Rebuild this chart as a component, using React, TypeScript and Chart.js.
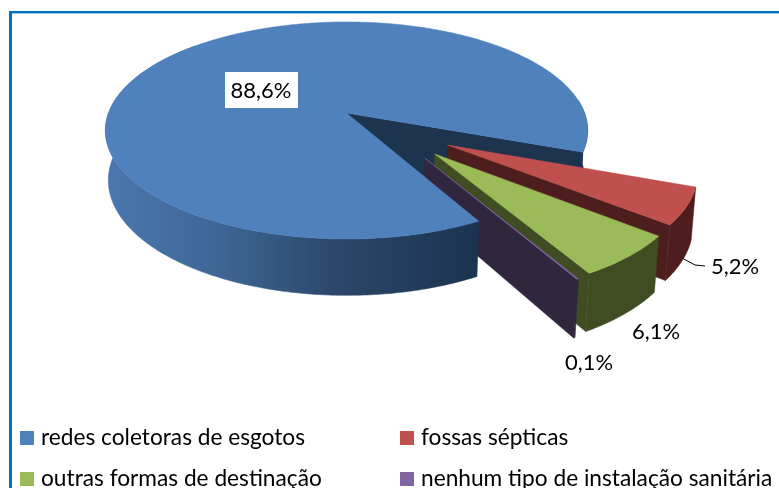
import React, { useEffect, useRef } from "react";
import { Chart, registerables } from "chart.js";

Chart.register(...registerables);

const categories = [
  "redes coletoras de esgotos",
  "fossas sépticas",
  "outras formas de destinação",
  "nenhum tipo de instalação sanitária",
];
const shares = [88.6, 5.2, 6.1, 0.1];
const topColors = ["#4F81BD", "#C0504D", "#9BBB59", "#8064A2"];
const wallColors = ["#1D344F", "#4D1E1D", "#404C22", "#30273F"];
const firstSliceAngle = 151.5;

// Camera model of the tilted disc
const CX = 346.5, CY = 113, SX = 238, SY = 105.7, DEPTH = 49.5, K = 0.161, M = 0.012;
const EXPLODE = [[0, 0], [0.405, 0.289], [0.349, 0.365], [0.3075, 0.399]];
const RADII = [1, 0.975, 0.975, 0.975];
const LABEL_POS = [[261, 91], [735, 267], [656, 332], [589, 363]];
const FAMILY = "Lato, Carlito, 'Open Sans', sans-serif";
const LABEL_FONT = `22px ${FAMILY}`;
const LEGEND_FONT = `22.7px ${FAMILY}`;

function project(x: number, y: number, z: number): [number, number] {
  const w = 1 - K * y + M * z;
  return [CX + (SX * x) / w, CY + (SY * y + DEPTH * z) / w];
}

function poly(ctx: CanvasRenderingContext2D, pts: [number, number][], fill: any) {
  ctx.beginPath();
  pts.forEach((p, i) => (i ? ctx.lineTo(p[0], p[1]) : ctx.moveTo(p[0], p[1])));
  ctx.closePath();
  ctx.fillStyle = fill;
  ctx.fill();
  ctx.strokeStyle = fill;
  ctx.lineWidth = 0.5;
  ctx.stroke();
}

function arcPts(a0: number, a1: number, ex: number[], r: number, z: number) {
  const n = Math.max(2, Math.ceil(Math.abs(a1 - a0) / 0.01));
  const out: [number, number][] = [];
  for (let i = 0; i <= n; i++) {
    const a = a0 + ((a1 - a0) * i) / n;
    out.push(project(ex[0] + r * Math.cos(a), ex[1] + r * Math.sin(a), z));
  }
  return out;
}

function top(ctx: CanvasRenderingContext2D, a0: number, a1: number, ex: number[], r: number, c: string) {
  poly(ctx, [project(ex[0], ex[1], 0), ...arcPts(a0, a1, ex, r, 0)], c);
}
function wall(ctx: CanvasRenderingContext2D, a: number, ex: number[], r: number, c: string) {
  const px = ex[0] + r * Math.cos(a);
  const py = ex[1] + r * Math.sin(a);
  poly(ctx, [project(ex[0], ex[1], 0), project(px, py, 0), project(px, py, 1), project(ex[0], ex[1], 1)], c);
}
function rim(ctx: CanvasRenderingContext2D, a0: number, a1: number, ex: number[], r: number, c: any) {
  poly(ctx, [...arcPts(a0, a1, ex, r, 0), ...arcPts(a1, a0, ex, r, 1)], c);
}

const pie3d = {
  id: "pie3d",
  beforeDatasetDraw(chart: any) {
    const ctx: CanvasRenderingContext2D = chart.ctx;
    const arcs = chart.getDatasetMeta(0).data;
    const ang = arcs.map((e: any) => e.getProps(["startAngle", "endAngle"], true));
    const [b, ...rest] = ang;
    const end = b.endAngle;
    const normEnd = end - 2 * Math.PI; // blue end lies just below 3 o'clock

    const g = ctx.createLinearGradient(105, 0, 477, 0);
    g.addColorStop(0, "#4A77AE");
    g.addColorStop(0.3, "#3F6796");
    g.addColorStop(0.62, "#2B4769");
    g.addColorStop(1, "#1B3350");

    ctx.save();
    // blue: cut wall and right-hand rim behind the exploded slices
    wall(ctx, end, [0, 0], 1, wallColors[0]);
    rim(ctx, -0.12, normEnd, [0, 0], 1, "#1D344F");

    // exploded slices, back to front
    rest.forEach((a: any, i: number) => {
      const k = i + 1;
      wall(ctx, a.endAngle, EXPLODE[k], RADII[k], wallColors[k]);
      rim(ctx, a.startAngle, a.endAngle, EXPLODE[k], RADII[k], wallColors[k]);
      top(ctx, a.startAngle, a.endAngle, EXPLODE[k], RADII[k], topColors[k]);
    });

    // blue: front rim and top
    rim(ctx, b.startAngle, Math.PI * 1.25, [0, 0], 1, g);
    top(ctx, b.startAngle, b.endAngle, [0, 0], 1, topColors[0]);

    // leader line
    ctx.beginPath();
    ctx.moveTo(682, 258);
    ctx.lineTo(695, 265);
    ctx.lineTo(705, 266);
    ctx.strokeStyle = "#000";
    ctx.lineWidth = 1;
    ctx.stroke();

    // value labels
    ctx.font = LABEL_FONT;
    ctx.textAlign = "center";
    ctx.textBaseline = "middle";
    ctx.fillStyle = "#fff";
    ctx.fillRect(225, 72, 73, 36);
    ctx.fillStyle = "#000";
    shares.forEach((v, i) => {
      ctx.fillText(v.toFixed(1).replace(".", ",") + "%", LABEL_POS[i][0], LABEL_POS[i][1]);
    });
    ctx.restore();
    return false;
  },
};

const frameAndLegend = {
  id: "frameAndLegend",
  afterDraw(chart: any) {
    const ctx: CanvasRenderingContext2D = chart.ctx;
    ctx.save();
    ctx.fillStyle = "#0070C0";
    ctx.fillRect(9, 11, 770, 2.4);
    ctx.fillRect(9, 11, 3, 477);
    ctx.font = LEGEND_FONT;
    ctx.textAlign = "left";
    ctx.textBaseline = "alphabetic";
    const xs = [20, 400];
    const ys = [431, 472];
    categories.forEach((c, i) => {
      const x = xs[i % 2];
      const y = ys[i >> 1];
      ctx.fillStyle = topColors[i];
      ctx.fillRect(x, y, 14, 14);
      ctx.fillStyle = "#000";
      ctx.fillText(c, x + 21, y + 14);
    });
    ctx.restore();
  },
};

export default function App() {
  const ref = useRef<HTMLCanvasElement>(null);
  useEffect(() => {
    document.body.style.margin = "0";
    const chart = new Chart(ref.current!, {
      type: "pie",
      data: {
        labels: categories,
        datasets: [{ data: shares, backgroundColor: topColors, borderWidth: 0 }],
      },
      options: {
        responsive: false,
        animation: false,
        rotation: firstSliceAngle,
        plugins: { legend: { display: false }, tooltip: { enabled: false } },
      },
      plugins: [pie3d, frameAndLegend],
    } as any);
    return () => chart.destroy();
  }, []);
  return (
    <div style={{ position: "absolute", left: 0, top: 0, width: 779, height: 488, background: "#fff", overflow: "hidden" }}>
      <canvas ref={ref} width={779} height={488} style={{ display: "block" }} />
    </div>
  );
}
